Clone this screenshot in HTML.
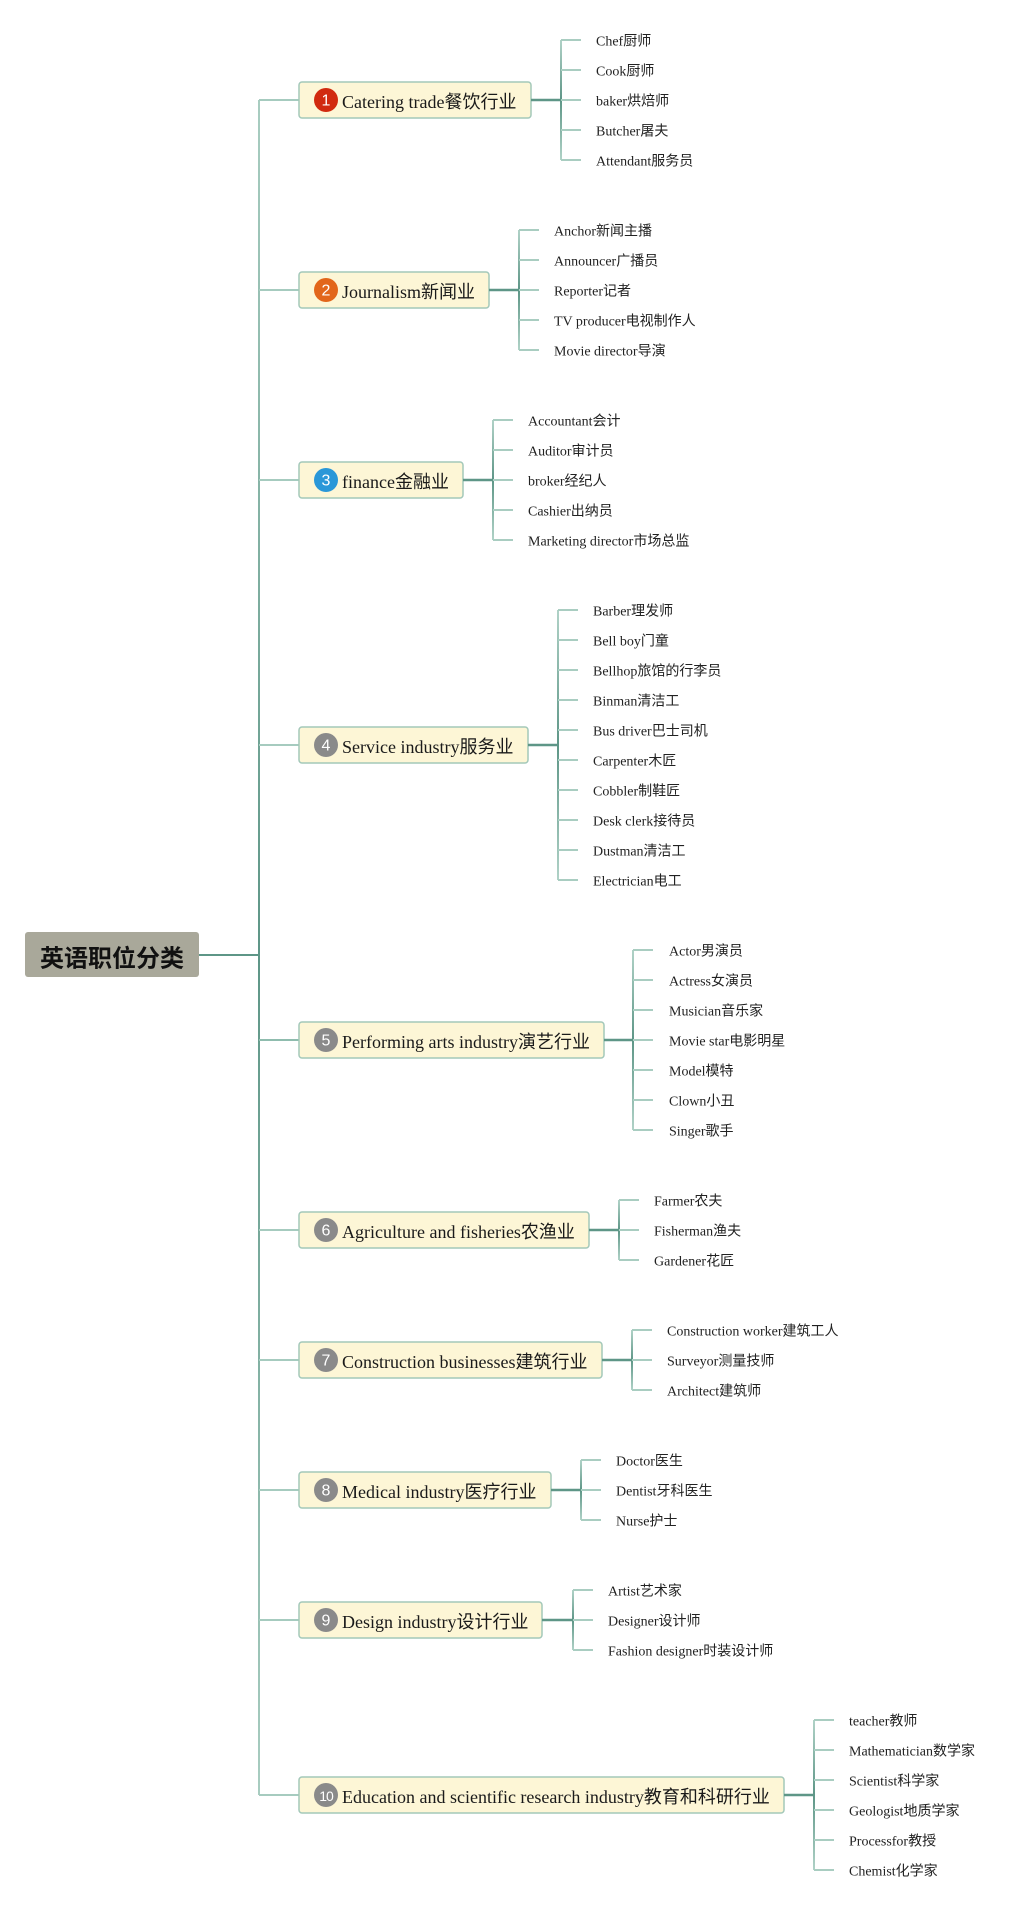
<!DOCTYPE html>
<html>
<head>
<meta charset="utf-8">
<style>
  html, body { margin: 0; padding: 0; background: #ffffff; }
  body { width: 1035px; height: 1910px; overflow: hidden; }
  svg { display: block; }
  .node { font-family: "Liberation Serif", "Noto Sans CJK SC", serif; font-size: 18px; fill: #1a1a1a; }
  .leaf { font-family: "Liberation Serif", "Noto Sans CJK SC", serif; font-size: 14px; fill: #222222; }
  .num { font-family: "Liberation Sans", "DejaVu Sans", sans-serif; font-size: 16px; fill: #ffffff; }
  .root { font-family: "Noto Sans CJK SC", "WenQuanYi Zen Hei", sans-serif; font-size: 24px; font-weight: bold; fill: #111111; }
</style>
</head>
<body>
<svg width="1035" height="1910" viewBox="0 0 1035 1910" xmlns="http://www.w3.org/2000/svg">
  <defs>
    <linearGradient id="vg" x1="0" y1="0" x2="0" y2="1">
      <stop offset="0" stop-color="#b0d2c7"/>
      <stop offset="0.5" stop-color="#5e9687"/>
      <stop offset="1" stop-color="#b0d2c7"/>
    </linearGradient>
    <linearGradient id="tg" x1="0" y1="0" x2="0" y2="1">
      <stop offset="0" stop-color="#a9cdc1"/>
      <stop offset="0.504" stop-color="#5e9687"/>
      <stop offset="1" stop-color="#a9cdc1"/>
    </linearGradient>
  </defs>

  <!-- Root -->
  <rect x="25" y="932" width="174" height="45" rx="3" fill="#a9a89a"/>
  <text class="root" x="112" y="956" text-anchor="middle" dominant-baseline="central">英语职位分类</text>
  <line x1="199" y1="955" x2="259" y2="955" stroke="#5e9687" stroke-width="2"/>

  <!-- Trunk -->
  <rect x="258" y="100" width="2" height="1695" fill="url(#tg)"/>

  <!-- Branches from trunk to nodes -->
  <g stroke="#a6cbbf" stroke-width="2" fill="none">
    <line x1="259" y1="100" x2="299" y2="100"/>
    <line x1="259" y1="290" x2="299" y2="290"/>
    <line x1="259" y1="480" x2="299" y2="480"/>
    <line x1="259" y1="745" x2="299" y2="745"/>
    <line x1="259" y1="1040" x2="299" y2="1040" stroke="#8fbcae"/>
    <line x1="259" y1="1230" x2="299" y2="1230"/>
    <line x1="259" y1="1360" x2="299" y2="1360"/>
    <line x1="259" y1="1490" x2="299" y2="1490"/>
    <line x1="259" y1="1620" x2="299" y2="1620"/>
    <line x1="259" y1="1795" x2="299" y2="1795"/>
  </g>

  <!-- Node boxes -->
  <g fill="#fdf6d6" stroke="#a3c8b9" stroke-width="1.5">
    <rect x="299" y="82" width="232" height="36" rx="3"/>
    <rect x="299" y="272" width="190" height="36" rx="3"/>
    <rect x="299" y="462" width="164" height="36" rx="3"/>
    <rect x="299" y="727" width="229" height="36" rx="3"/>
    <rect x="299" y="1022" width="305" height="36" rx="3"/>
    <rect x="299" y="1212" width="290" height="36" rx="3"/>
    <rect x="299" y="1342" width="303" height="36" rx="3"/>
    <rect x="299" y="1472" width="252" height="36" rx="3"/>
    <rect x="299" y="1602" width="243" height="36" rx="3"/>
    <rect x="299" y="1777" width="485" height="36" rx="3"/>
  </g>

  <!-- Badges -->
  <circle cx="326" cy="100" r="12" fill="#d12a0f"/>
  <circle cx="326" cy="290" r="12" fill="#e2661b"/>
  <circle cx="326" cy="480" r="12" fill="#2a97d8"/>
  <g fill="#8a8a8a">
    <circle cx="326" cy="745" r="12"/>
    <circle cx="326" cy="1040" r="12"/>
    <circle cx="326" cy="1230" r="12"/>
    <circle cx="326" cy="1360" r="12"/>
    <circle cx="326" cy="1490" r="12"/>
    <circle cx="326" cy="1620" r="12"/>
    <circle cx="326" cy="1795" r="12"/>
  </g>
  <g class="num" text-anchor="middle" dominant-baseline="central">
    <text x="326" y="101">1</text>
    <text x="326" y="291">2</text>
    <text x="326" y="481">3</text>
    <text x="326" y="746">4</text>
    <text x="326" y="1041">5</text>
    <text x="326" y="1231">6</text>
    <text x="326" y="1361">7</text>
    <text x="326" y="1491">8</text>
    <text x="326" y="1621">9</text>
    <text x="326" y="1796" style="font-size:14px;letter-spacing:-1px">10</text>
  </g>

  <!-- Node labels -->
  <g class="node" dominant-baseline="central">
    <text x="342" y="102">Catering trade餐饮行业</text>
    <text x="342" y="292">Journalism新闻业</text>
    <text x="342" y="482">finance金融业</text>
    <text x="342" y="747">Service industry服务业</text>
    <text x="342" y="1042">Performing arts industry演艺行业</text>
    <text x="342" y="1232">Agriculture and fisheries农渔业</text>
    <text x="342" y="1362">Construction businesses建筑行业</text>
    <text x="342" y="1492">Medical industry医疗行业</text>
    <text x="342" y="1622">Design industry设计行业</text>
    <text x="342" y="1797">Education and scientific research industry教育和科研行业</text>
  </g>

  <!-- Connectors box -> bracket -->
  <g stroke="#5e9687" stroke-width="2.5">
    <line x1="531" y1="100" x2="562" y2="100"/>
    <line x1="489" y1="290" x2="520" y2="290"/>
    <line x1="463" y1="480" x2="494" y2="480"/>
    <line x1="528" y1="745" x2="559" y2="745"/>
    <line x1="604" y1="1040" x2="634" y2="1040"/>
    <line x1="589" y1="1230" x2="620" y2="1230"/>
    <line x1="602" y1="1360" x2="633" y2="1360"/>
    <line x1="551" y1="1490" x2="582" y2="1490"/>
    <line x1="542" y1="1620" x2="574" y2="1620"/>
    <line x1="784" y1="1795" x2="815" y2="1795"/>
  </g>

  <!-- Bracket verticals -->
  <g fill="url(#vg)">
    <rect x="560" y="40" width="2" height="120"/>
    <rect x="518" y="230" width="2" height="120"/>
    <rect x="492" y="420" width="2" height="120"/>
    <rect x="557" y="610" width="2" height="270"/>
    <rect x="632" y="950" width="2" height="180"/>
    <rect x="618" y="1200" width="2" height="60"/>
    <rect x="631" y="1330" width="2" height="60"/>
    <rect x="580" y="1460" width="2" height="60"/>
    <rect x="572" y="1590" width="2" height="60"/>
    <rect x="813" y="1720" width="2" height="150"/>
  </g>

  <!-- Child lines -->
  <g stroke="#a9cdc1" stroke-width="2">
    <line x1="561" y1="40" x2="581" y2="40"/><line x1="561" y1="70" x2="581" y2="70"/><line x1="561" y1="100" x2="581" y2="100"/><line x1="561" y1="130" x2="581" y2="130"/><line x1="561" y1="160" x2="581" y2="160"/>
    <line x1="519" y1="230" x2="539" y2="230"/><line x1="519" y1="260" x2="539" y2="260"/><line x1="519" y1="290" x2="539" y2="290"/><line x1="519" y1="320" x2="539" y2="320"/><line x1="519" y1="350" x2="539" y2="350"/>
    <line x1="493" y1="420" x2="513" y2="420"/><line x1="493" y1="450" x2="513" y2="450"/><line x1="493" y1="480" x2="513" y2="480"/><line x1="493" y1="510" x2="513" y2="510"/><line x1="493" y1="540" x2="513" y2="540"/>
    <line x1="558" y1="610" x2="578" y2="610"/><line x1="558" y1="640" x2="578" y2="640"/><line x1="558" y1="670" x2="578" y2="670"/><line x1="558" y1="700" x2="578" y2="700"/><line x1="558" y1="730" x2="578" y2="730"/><line x1="558" y1="760" x2="578" y2="760"/><line x1="558" y1="790" x2="578" y2="790"/><line x1="558" y1="820" x2="578" y2="820"/><line x1="558" y1="850" x2="578" y2="850"/><line x1="558" y1="880" x2="578" y2="880"/>
    <line x1="633" y1="950" x2="653" y2="950"/><line x1="633" y1="980" x2="653" y2="980"/><line x1="633" y1="1010" x2="653" y2="1010"/><line x1="633" y1="1040" x2="653" y2="1040"/><line x1="633" y1="1070" x2="653" y2="1070"/><line x1="633" y1="1100" x2="653" y2="1100"/><line x1="633" y1="1130" x2="653" y2="1130"/>
    <line x1="619" y1="1200" x2="639" y2="1200"/><line x1="619" y1="1230" x2="639" y2="1230"/><line x1="619" y1="1260" x2="639" y2="1260"/>
    <line x1="632" y1="1330" x2="652" y2="1330"/><line x1="632" y1="1360" x2="652" y2="1360"/><line x1="632" y1="1390" x2="652" y2="1390"/>
    <line x1="581" y1="1460" x2="601" y2="1460"/><line x1="581" y1="1490" x2="601" y2="1490"/><line x1="581" y1="1520" x2="601" y2="1520"/>
    <line x1="573" y1="1590" x2="593" y2="1590"/><line x1="573" y1="1620" x2="593" y2="1620"/><line x1="573" y1="1650" x2="593" y2="1650"/>
    <line x1="814" y1="1720" x2="834" y2="1720"/><line x1="814" y1="1750" x2="834" y2="1750"/><line x1="814" y1="1780" x2="834" y2="1780"/><line x1="814" y1="1810" x2="834" y2="1810"/><line x1="814" y1="1840" x2="834" y2="1840"/><line x1="814" y1="1870" x2="834" y2="1870"/>
  </g>

  <!-- Leaf labels -->
  <g class="leaf" dominant-baseline="central">
    <text x="596" y="42">Chef厨师</text>
    <text x="596" y="72">Cook厨师</text>
    <text x="596" y="102">baker烘焙师</text>
    <text x="596" y="132">Butcher屠夫</text>
    <text x="596" y="162">Attendant服务员</text>

    <text x="554" y="232">Anchor新闻主播</text>
    <text x="554" y="262">Announcer广播员</text>
    <text x="554" y="292">Reporter记者</text>
    <text x="554" y="322">TV producer电视制作人</text>
    <text x="554" y="352">Movie director导演</text>

    <text x="528" y="422">Accountant会计</text>
    <text x="528" y="452">Auditor审计员</text>
    <text x="528" y="482">broker经纪人</text>
    <text x="528" y="512">Cashier出纳员</text>
    <text x="528" y="542">Marketing director市场总监</text>

    <text x="593" y="612">Barber理发师</text>
    <text x="593" y="642">Bell boy门童</text>
    <text x="593" y="672">Bellhop旅馆的行李员</text>
    <text x="593" y="702">Binman清洁工</text>
    <text x="593" y="732">Bus driver巴士司机</text>
    <text x="593" y="762">Carpenter木匠</text>
    <text x="593" y="792">Cobbler制鞋匠</text>
    <text x="593" y="822">Desk clerk接待员</text>
    <text x="593" y="852">Dustman清洁工</text>
    <text x="593" y="882">Electrician电工</text>

    <text x="669" y="952">Actor男演员</text>
    <text x="669" y="982">Actress女演员</text>
    <text x="669" y="1012">Musician音乐家</text>
    <text x="669" y="1042">Movie star电影明星</text>
    <text x="669" y="1072">Model模特</text>
    <text x="669" y="1102">Clown小丑</text>
    <text x="669" y="1132">Singer歌手</text>

    <text x="654" y="1202">Farmer农夫</text>
    <text x="654" y="1232">Fisherman渔夫</text>
    <text x="654" y="1262">Gardener花匠</text>

    <text x="667" y="1332">Construction worker建筑工人</text>
    <text x="667" y="1362">Surveyor测量技师</text>
    <text x="667" y="1392">Architect建筑师</text>

    <text x="616" y="1462">Doctor医生</text>
    <text x="616" y="1492">Dentist牙科医生</text>
    <text x="616" y="1522">Nurse护士</text>

    <text x="608" y="1592">Artist艺术家</text>
    <text x="608" y="1622">Designer设计师</text>
    <text x="608" y="1652">Fashion designer时装设计师</text>

    <text x="849" y="1722">teacher教师</text>
    <text x="849" y="1752">Mathematician数学家</text>
    <text x="849" y="1782">Scientist科学家</text>
    <text x="849" y="1812">Geologist地质学家</text>
    <text x="849" y="1842">Processfor教授</text>
    <text x="849" y="1872">Chemist化学家</text>
  </g>
</svg>
</body>
</html>
